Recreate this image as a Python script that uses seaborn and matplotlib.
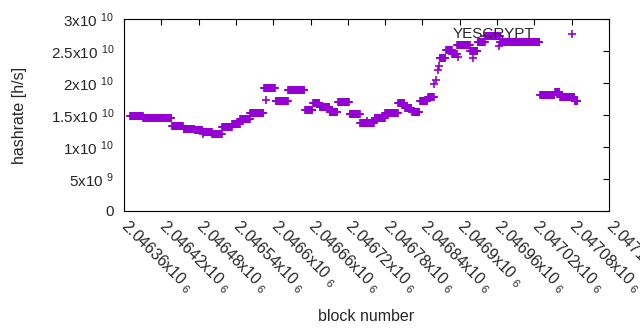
import numpy as np
import pandas as pd
import matplotlib
matplotlib.use("Agg")
import matplotlib.pyplot as plt
import seaborn as sns

# ----------------------------
# Daten: Abschnitte mit konstanter Hashrate
# ----------------------------
seg_start = [2046370, 2046391, 2046437, 2046456, 2046474, 2046487, 2046502, 2046518,
             2046534, 2046547, 2046563, 2046585, 2046604, 2046624, 2046651, 2046664,
             2046675, 2046691, 2046704, 2046723, 2046740, 2046763, 2046780, 2046801,
             2046812, 2046823, 2046836, 2046849, 2046868, 2046878, 2046888, 2046896,
             2046917, 2046929, 2046941, 2046965, 2047029, 2047053, 2047061, 2047085]
seg_end = [2046391, 2046437, 2046456, 2046474, 2046487, 2046502, 2046518, 2046534,
           2046547, 2046563, 2046585, 2046604, 2046624, 2046651, 2046664, 2046675,
           2046691, 2046704, 2046723, 2046740, 2046763, 2046780, 2046801, 2046812,
           2046823, 2046836, 2046849, 2046859, 2046878, 2046888, 2046896, 2046917,
           2046929, 2046941, 2046965, 2047029, 2047053, 2047061, 2047085, 2047090]
seg_rate = [14.8, 14.5, 13.3, 12.8, 12.6, 12.3, 12.1, 13.1,
            13.6, 14.4, 15.3, 19.2, 17.2, 18.9, 15.8, 16.9,
            16.3, 15.5, 17.0, 15.2, 13.7, 14.5, 15.3, 16.9,
            16.1, 15.4, 17.2, 17.8, 23.9, 25.1, 24.6, 25.9,
            25.0, 26.4, 27.4, 26.4, 18.1, 18.6, 17.8, 17.2]  # in 1e9 h/s

# Einzelne Ausreisser / Anstieg
extra_block = [2046487, 2046588, 2046859, 2046862, 2046865, 2046867, 2046921, 2046963, 2046751, 2046897]
extra_rate = [12.0, 17.3, 19.9, 20.5, 22.0, 22.6, 23.9, 25.8, 14.0, 24.0]

x_ticks = list(range(2046360, 2047141, 60))
y_ticks = [0, 5e9, 1e10, 1.5e10, 2e10, 2.5e10, 3e10]
y_labels = ["0", "5x10 $^{9}$", "1x10 $^{10}$", "1.5x10 $^{10}$",
            "2x10 $^{10}$", "2.5x10 $^{10}$", "3x10 $^{10}$"]

# ----------------------------
# DataFrame bauen
# ----------------------------
bl, hr = [], []
for s, e, r in zip(seg_start, seg_end, seg_rate):
    b = np.arange(s, e)
    bl.extend(b)
    hr.extend([r * 1e9] * len(b))
bl.extend(extra_block)
hr.extend([r * 1e9 for r in extra_rate])
df = pd.DataFrame({"block": bl, "hashrate": hr})

sns.set_style("white")
plt.rcParams["font.family"] = ["Liberation Sans", "DejaVu Sans"]
plt.rcParams["mathtext.fontset"] = "custom"
plt.rcParams["mathtext.rm"] = "Liberation Sans"
plt.rcParams["mathtext.it"] = "Liberation Sans"
plt.rcParams["mathtext.default"] = "regular"

fig = plt.figure(figsize=(6.4, 3.3), dpi=100)
ax = fig.add_axes([124 / 640, 1 - 211 / 330, 485 / 640, 192 / 330])

sns.scatterplot(data=df, x="block", y="hashrate", marker="+", color="#9400D3",
                s=30, linewidth=1.2, ax=ax, label="YESCRYPT")

ax.set_xlim(2046360, 2047140)
ax.set_ylim(0, 3e10)
ax.set_xticks(x_ticks)
ax.set_xticklabels([f"{t / 1e6:.5f}".rstrip("0") + "x10 $_{6}$" for t in x_ticks],
                   rotation=-45, ha="left", va="center", rotation_mode="anchor", fontsize=11.3)
ax.set_yticks(y_ticks)
ax.set_yticklabels(y_labels, fontsize=11)
ax.tick_params(axis="y", pad=7)
ax.tick_params(axis="x", pad=9)
ax.tick_params(direction="in", length=4, width=0.8, top=True, right=True,
               labeltop=False, labelright=False, color="black")
for sp in ax.spines.values():
    sp.set_color("black")
    sp.set_linewidth(0.8)

ax.set_xlabel("block number", fontsize=11.5)
ax.set_ylabel("hashrate [h/s]", fontsize=11.5)
ax.xaxis.set_label_coords(0.5, -0.51)
ax.yaxis.set_label_coords(-0.2, 0.5)

ax.legend(loc="upper right", bbox_to_anchor=(0.975, 1.005), frameon=False,
          markerfirst=False, fontsize=11, handletextpad=1.5, borderaxespad=0.2)

fig.savefig("out.png", dpi=100)
